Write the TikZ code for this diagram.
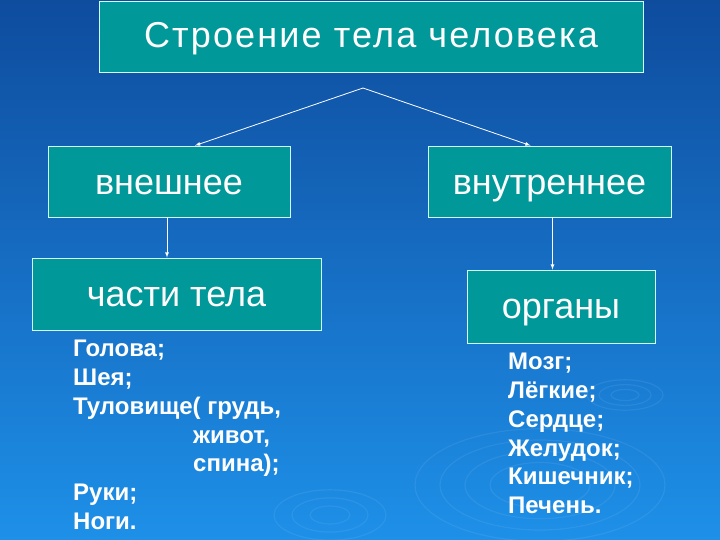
\documentclass[tikz,border=0pt]{standalone}
\usepackage{fontspec}
\setmainfont{Liberation Sans}
\newfontfamily\titlefont[LetterSpace=6]{Liberation Sans}
\usepackage{xcolor}
\usetikzlibrary{shapes,arrows,positioning,calc}

\definecolor{bgtop}{RGB}{14,76,158}
\definecolor{bgbot}{RGB}{30,144,232}
\definecolor{boxteal}{RGB}{0,152,152}
\definecolor{boxline}{RGB}{210,255,255}

\tikzset{
  tealbox/.style={draw=boxline, line width=0.9pt, fill=boxteal, text=white,
    inner sep=0pt, text depth=0pt, text height=26pt, font=\fontsize{36}{43}\selectfont},
  link/.style={->, >=latex, white, line width=0.8pt},
  ripple/.style={white, opacity=0.07, line width=1.2pt},
  listtext/.style={text=white, align=left, inner sep=0pt, anchor=north west,
    font=\fontsize{24}{28.8}\selectfont\bfseries}
}

\begin{document}
\begin{tikzpicture}[x=1pt,y=-1pt]
                    % background
                    \shade[top color=bgtop, bottom color=bgbot] (0,0) rectangle (720,540);
                    \useasboundingbox (0,0) rectangle (720,540);
                    
                    % ripples
                    \foreach \r in {14,26,38}
                        \draw[ripple] (625,395) ellipse ({\r} and {0.4*\r});
                    \foreach \r in {50,75,100,125}
                        \draw[ripple] (540,485) ellipse ({\r} and {0.45*\r});
                    \foreach \r in {20,38,56}
                        \draw[ripple] (330,515) ellipse ({\r} and {0.45*\r});
                    
                    % boxes
                    \node[tealbox, minimum width=544, minimum height=71, text height=22pt,
                          font=\titlefont\fontsize{36}{43}\selectfont] (body) at (371,36.5) {Строение тела человека};
                    \node[tealbox, minimum width=242, minimum height=71, text height=27pt] (outer) at (169,181.5) {внешнее};
                    \node[tealbox, minimum width=243, minimum height=71, text height=27pt] (inner) at (549.5,181.5) {внутреннее};
                    \node[tealbox, minimum width=289, minimum height=72, text height=24pt] (parts) at (176.5,294) {части тела};
                    \node[tealbox, minimum width=188, minimum height=73, text height=23pt] (organs) at (561,306.5) {органы};
                    
                    % arrows
                    \coordinate (split) at (363,88);
                    \draw[link] (split) -- ([xshift=26pt]outer.north);
                    \draw[link] (split) -- ([xshift=-19pt]inner.north);
                    \draw[link] ([xshift=-2pt]outer.south) -- ([xshift=-2pt]outer.south |- parts.north);
                    \draw[link] ([xshift=3pt]inner.south) -- ([xshift=3pt]inner.south |- organs.north);
                    
                    % lists
                    \node[listtext] (partlist) at (73,340) {Голова;\\Шея;\\Туловище( грудь,\\\hspace*{120pt}живот,\\\hspace*{120pt}спина);\\Руки;\\Ноги.};
                    \node[listtext] (organlist) at (508,353) {Мозг;\\Лёгкие;\\Сердце;\\Желудок;\\Кишечник;\\Печень.};
                \end{tikzpicture}
\end{document}
